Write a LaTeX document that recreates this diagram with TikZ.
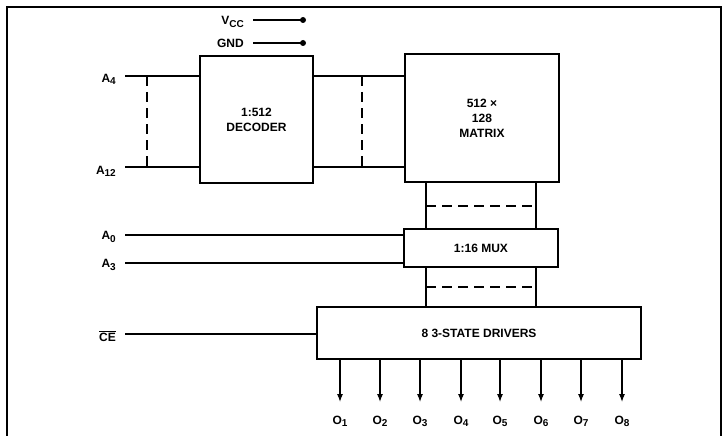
\documentclass[tikz,border=0pt]{standalone}
\usepackage{fontspec}
\setmainfont{Liberation Sans}
\usetikzlibrary{arrows.meta,calc}
\newcommand\lsub[1]{\raisebox{-0.35ex}{\fontsize{10}{10}\selectfont #1}}
\tikzset{
  box/.style={draw, line width=2.2pt, inner sep=0pt, font=\fontsize{12}{15}\selectfont\bfseries, align=center},
  wire/.style={line width=1.1pt},
  dwire/.style={line width=1.1pt, dash pattern=on 10pt off 6pt},
  lbl/.style={font=\fontsize{12}{13}\selectfont\bfseries, inner sep=1pt},
  outarrow/.style={line width=1.1pt, -{Latex[length=8pt,width=6pt]}},
}
\begin{document}
\begin{tikzpicture}[x=1pt,y=-1pt]
\useasboundingbox (0,0) rectangle (726,436);
% frame
\draw[line width=1.6pt] (7,436) -- (7,7) -- (721,7) -- (721,436);

% boxes
\node[box, minimum width=113pt, minimum height=127pt] (dec) at (256.5,119.5) {1:512\\DECODER};
\node[box, minimum width=154pt, minimum height=128pt] (mat) at (482,118) {512 ×\\128\\MATRIX};
\node[box, minimum width=154pt, minimum height=38pt] (mux) at (481,248) {1:16 MUX};
\node[box, minimum width=324pt, minimum height=52pt] (drv) at (479,333) {8 3-STATE DRIVERS};

% power
\node[lbl, anchor=east] (vcc) at (245,22) {V\lsub{CC}};
\node[lbl, anchor=east] (gnd) at (245,43) {GND};
\coordinate (vccs) at (253,20);
\coordinate (vcce) at (303,20);
\coordinate (gnds) at (253,43);
\coordinate (gnde) at (303,43);
\draw[wire] (vccs) -- (vcce);
\draw[wire] (gnds) -- (gnde);
\fill (vcce) circle (3pt);
\fill (gnde) circle (3pt);

% address inputs
\node[lbl, anchor=east] (la4) at (117,79) {A\lsub{4}};
\node[lbl, anchor=east] (la12) at (117,171) {A\lsub{12}};
\node[lbl, anchor=east] (la0) at (117,237) {A\lsub{0}};
\node[lbl, anchor=east] (la3) at (117,265) {A\lsub{3}};
\node[lbl, anchor=east] (lce) at (117,336) {$\overline{\mbox{CE}}$};

\coordinate (a4) at (125,76);
\coordinate (a12) at (125,167);
\coordinate (a0) at (125,235);
\coordinate (a3) at (125,263);
\coordinate (ce) at (125,334);

\draw[wire] (a4) -- (a4 -| dec.west);
\draw[wire] (a12) -- (a12 -| dec.west);
\draw[dwire] (147,76) -- (147,167);

\draw[wire] (a4 -| dec.east) -- (a4 -| mat.west);
\draw[wire] (a12 -| dec.east) -- (a12 -| mat.west);
\draw[dwire] (362,76) -- (362,167);

\draw[wire] (a0) -- (a0 -| mux.west);
\draw[wire] (a3) -- (a3 -| mux.west);
\draw[wire] (ce) -- (ce -| drv.west);

% buses
\coordinate (bx1) at (426,0);
\coordinate (bx2) at (536,0);
\draw[wire] (mat.south -| bx1) -- (mux.north -| bx1);
\draw[wire] (mat.south -| bx2) -- (mux.north -| bx2);
\draw[dwire] (426,206) -- (536,206);
\draw[wire] (mux.south -| bx1) -- (drv.north -| bx1);
\draw[wire] (mux.south -| bx2) -- (drv.north -| bx2);
\draw[dwire] (426,287) -- (536,287);

% outputs
\foreach \i/\x in {1/340,2/380,3/420,4/461,5/500,6/541,7/581,8/622}{
  \coordinate (o\i) at (\x,402);
  \draw[outarrow] (drv.south -| o\i) -- (o\i);
  \node[lbl] (lo\i) at (\x,421) {O\lsub{\i}};
}
\end{tikzpicture}
\end{document}
